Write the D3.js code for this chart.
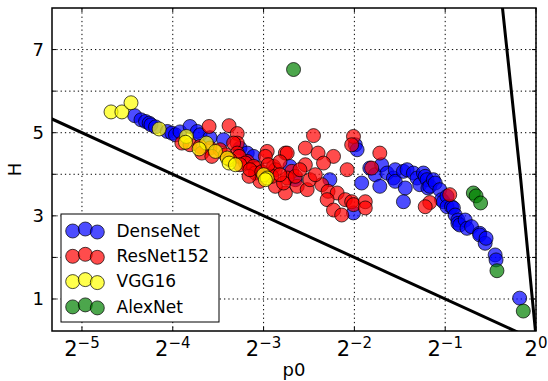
<!DOCTYPE html>
<html><head><meta charset="utf-8">
<script src="https://cdn.jsdelivr.net/npm/d3@7"></script>
<style>body{margin:0;background:#fff}svg{display:block;font-family:"DejaVu Sans",sans-serif}</style>
</head><body>
<svg id="chart" width="548" height="381"></svg>
<script>
// ---- data (x stored as log2 of p0) ----
const seriesNames = ["DenseNet", "ResNet152", "VGG16", "AlexNet"];
const seriesColors = ["#0000ff", "#ff0000", "#ffff00", "#008000"];

const densenetLog2P0 = [-4.42,-4.35,-4.30,-4.26,-4.24,-4.19,-4.06,-4.01,-3.97,-3.92,-3.81,-3.73,-3.70,-3.59,-3.44,-3.26,-3.18,-3.11,-2.71,-2.65,-2.27,-1.99,-1.97,-2.01,-1.92,-1.83,-1.77,-1.72,-1.70,-1.64,-1.57,-1.55,-1.55,-1.46,-1.44,-1.46,-1.42,-1.35,-1.31,-1.28,-1.24,-1.22,-1.20,-1.19,-1.17,-1.13,-1.11,-1.06,-1.04,-1.02,-0.98,-0.98,-0.93,-0.91,-0.89,-0.86,-0.86,-0.84,-0.78,-0.76,-0.71,-0.62,-0.62,-0.56,-0.55,-0.45,-0.44,-0.18];
const densenetH = [5.41,5.31,5.27,5.23,5.19,5.14,5.03,4.99,4.95,5.02,5.15,5.03,4.95,4.88,4.83,4.63,4.51,4.43,4.19,3.87,3.87,4.71,4.59,3.07,3.79,4.15,3.99,3.71,4.23,4.03,3.91,4.11,3.83,4.07,3.67,3.34,4.11,4.03,3.91,3.75,4.03,3.95,3.87,3.67,3.71,3.87,3.79,3.63,3.39,3.34,3.47,3.22,3.22,3.19,3.02,2.90,2.82,2.78,2.90,2.70,2.74,2.58,2.54,2.34,2.46,2.06,1.94,1.02];

const resnetLog2P0 = [-3.60,-3.38,-3.29,-3.29,-3.90,-3.81,-3.70,-3.59,-3.48,-3.33,-3.29,-3.18,-3.07,-2.96,-2.89,-3.68,-3.57,-3.27,-3.20,-3.11,-2.98,-2.76,-2.69,-2.87,-2.74,-2.76,-2.87,-3.09,-3.04,-3.16,-2.91,-2.45,-2.01,-2.03,-2.54,-2.40,-2.23,-2.34,-2.54,-2.08,-1.81,-2.74,-2.78,-2.63,-2.52,-2.65,-2.49,-2.36,-2.29,-2.19,-2.30,-2.23,-2.14,-2.10,-2.03,-2.01,-1.88,-1.88,-1.72,-0.95,-1.17,-1.22,-3.42,-3.37,-3.26,-3.15,-3.02,-2.95,-2.82,-2.60,-2.43,-2.82];
const resnetH = [5.15,5.17,4.98,4.75,4.75,4.71,4.67,4.63,4.59,4.75,4.51,4.31,4.15,4.55,4.19,4.51,4.43,4.43,4.27,4.19,4.43,4.51,4.07,4.11,3.91,3.55,3.71,4.03,3.83,3.95,3.95,4.93,4.91,4.71,4.63,4.51,4.43,4.27,4.23,4.11,4.15,4.51,3.79,3.71,3.63,3.95,3.87,3.75,3.59,3.55,3.39,3.14,3.02,3.39,3.34,3.27,3.34,3.19,4.51,3.51,3.32,3.22,4.47,4.35,4.23,4.11,4.06,4.23,4.30,4.11,3.99,3.99];

const vggLog2P0 = [-4.68,-4.56,-4.46,-4.15,-3.85,-3.86,-3.63,-3.71,-3.53,-3.40,-3.38,-3.31,-3.00,-2.96,-2.98];
const vggH = [5.50,5.50,5.72,5.09,4.91,4.77,4.75,4.61,4.55,4.39,4.27,4.23,3.99,3.91,3.87];

const alexnetLog2P0 = [-2.67,-0.69,-0.66,-0.61,-0.43,-0.14];
const alexnetH = [6.52,3.55,3.48,3.31,1.68,0.71];

// bound lines
const lowerBoundLog2P0 = [-6, 0];
const lowerBoundH = [6, 0];
const upperBoundLog2P0 = [-0.38, -0.369, -0.168, -0.007, 0];
const upperBoundH = [8.2, 8, 3.87, 0.25, 0.08];

const xTickExps = [-5, -4, -3, -2, -1, 0];
const yTickValues = [1, 2, 3, 4, 5, 6, 7];
const yTickLabels = [1, 3, 5, 7];

// ---- layout ----
const svg = d3.select("#chart");
const L = 52, R = 536, T = 8, B = 331;
const x = d3.scaleLinear().domain([-5.33, 0]).range([L, R]);
const y = d3.scaleLinear().domain([0.23, 8]).range([B, T]);

svg.append("defs").append("clipPath").attr("id", "clip")
  .append("rect").attr("x", L).attr("y", T).attr("width", R - L).attr("height", B - T);

// grid
const grid = svg.append("g").attr("stroke", "#000").attr("stroke-width", 1).attr("stroke-dasharray", "1.3,3");
grid.selectAll("line.gx").data(xTickExps).enter().append("line")
  .attr("x1", d => x(d)).attr("x2", d => x(d)).attr("y1", T).attr("y2", B);
grid.selectAll("line.gy").data(yTickValues).enter().append("line")
  .attr("y1", d => y(d)).attr("y2", d => y(d)).attr("x1", L).attr("x2", R);

// bound lines
const lineGen = d3.line().x(d => x(d[0])).y(d => y(d[1]));
const lines = svg.append("g").attr("clip-path", "url(#clip)");
lines.append("path").datum(d3.zip(lowerBoundLog2P0, lowerBoundH)).attr("d", lineGen)
  .attr("fill", "none").attr("stroke", "#000").attr("stroke-width", 3);
lines.append("path").datum(d3.zip(upperBoundLog2P0, upperBoundH)).attr("d", lineGen)
  .attr("fill", "none").attr("stroke", "#000").attr("stroke-width", 3);

// scatter
const series = [
  [densenetLog2P0, densenetH],
  [resnetLog2P0, resnetH],
  [vggLog2P0, vggH],
  [alexnetLog2P0, alexnetH]
];
const pts = svg.append("g").attr("clip-path", "url(#clip)");
series.forEach((s, i) => {
  pts.append("g").selectAll("circle").data(d3.zip(s[0], s[1])).enter().append("circle")
    .attr("cx", d => x(d[0])).attr("cy", d => y(d[1])).attr("r", 7)
    .attr("fill", seriesColors[i]).attr("fill-opacity", 0.7)
    .attr("stroke", "#000").attr("stroke-opacity", 0.7).attr("stroke-width", 1);
});

// ticks (inward, all sides)
const tk = svg.append("g").attr("stroke", "#000").attr("stroke-width", 1);
xTickExps.forEach(e => {
  tk.append("line").attr("x1", x(e)).attr("x2", x(e)).attr("y1", B).attr("y2", B - 4);
  tk.append("line").attr("x1", x(e)).attr("x2", x(e)).attr("y1", T).attr("y2", T + 4);
});
yTickValues.forEach(v => {
  tk.append("line").attr("y1", y(v)).attr("y2", y(v)).attr("x1", L).attr("x2", L + 4);
  tk.append("line").attr("y1", y(v)).attr("y2", y(v)).attr("x1", R).attr("x2", R - 4);
});

// frame
svg.append("rect").attr("x", L).attr("y", T).attr("width", R - L).attr("height", B - T)
  .attr("fill", "none").attr("stroke", "#000").attr("stroke-width", 1.5);

// tick labels
svg.append("g").selectAll("text").data(yTickLabels).enter().append("text")
  .attr("x", L - 8).attr("y", d => y(d)).attr("dy", "0.36em")
  .attr("text-anchor", "end").attr("font-size", 18).attr("fill", "#000").text(d => d);

const xl = svg.append("g").selectAll("text").data(xTickExps).enter().append("text")
  .attr("x", d => x(d)).attr("y", 355.5).attr("text-anchor", "middle").attr("fill", "#000");
xl.append("tspan").attr("font-size", 21).text("2");
xl.append("tspan").attr("font-size", 15).attr("dy", -7.5).text(d => d === 0 ? "0" : "\u2212" + Math.abs(d));

// axis labels
svg.append("text").attr("x", (L + R) / 2).attr("y", 376).attr("text-anchor", "middle")
  .attr("font-size", 18).text("p0");
svg.append("text").attr("transform", "translate(21," + ((T + B) / 2) + ") rotate(-90)")
  .attr("text-anchor", "middle").attr("font-size", 18).text("H");

// legend
const lg = svg.append("g");
lg.append("rect").attr("x", 61).attr("y", 214).attr("width", 158).attr("height", 108)
  .attr("fill", "#fff").attr("stroke", "#000").attr("stroke-width", 1);
const dotX = [72.7, 85.3, 97.3];
const dotDy = [0.5, -1.5, 1.5];
seriesNames.forEach((n, i) => {
  const cy = 230.5 + i * 25.3;
  dotX.forEach((dx, j) => {
    lg.append("circle").attr("cx", dx).attr("cy", cy + dotDy[j]).attr("r", 7)
      .attr("fill", seriesColors[i]).attr("fill-opacity", 0.7)
      .attr("stroke", "#000").attr("stroke-opacity", 0.7);
  });
  lg.append("text").attr("x", 116.5).attr("y", cy).attr("dy", "0.36em")
    .attr("font-size", 17).attr("fill", "#000").text(n);
});
</script>
</body></html>
